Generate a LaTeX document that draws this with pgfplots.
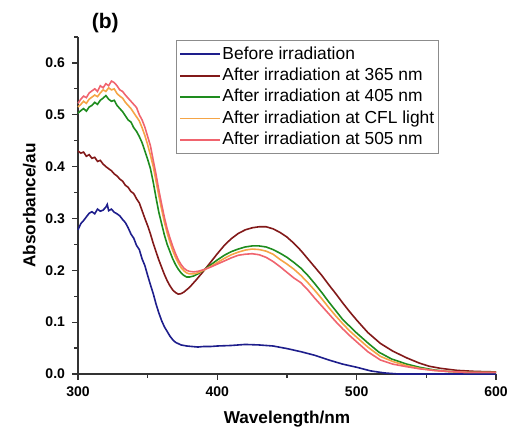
\documentclass[border=0pt]{standalone}
\usepackage{fontspec}
\setmainfont{Liberation Sans}
\usepackage{pgfplots}
\pgfplotsset{compat=1.18}

\definecolor{cnavy}{RGB}{30,30,140}
\definecolor{cmaroon}{RGB}{130,25,25}
\definecolor{cgreen}{RGB}{30,140,30}
\definecolor{corange}{RGB}{245,165,70}
\definecolor{cpink}{RGB}{240,100,110}

\begin{document}
\begin{tikzpicture}
\path[use as bounding box] (-39pt,-28.5pt) rectangle (217pt,187pt);
\begin{axis}[
  scale only axis,
  width=209pt, height=168.5pt,
  xmin=300, xmax=600, ymin=0, ymax=0.65,
  axis x line=bottom, axis y line=left,
  axis line style={-, line width=0.7pt, black!80},
  xtick={300,400,500,600}, minor xtick={350,450,550},
  ytick={0,0.1,0.2,0.3,0.4,0.5,0.6}, minor ytick={0.05,0.15,0.25,0.35,0.45,0.55,0.65},
  tick align=outside,
  major tick length=3pt, minor tick length=2pt,
  tick style={line width=0.6pt, black!80},
  /pgf/number format/assume math mode=true,
  ticklabel style={font=\fontsize{7}{8}\selectfont\bfseries},
  yticklabel style={/pgf/number format/.cd, fixed, fixed zerofill, precision=1},
  xticklabel style={/pgf/number format/.cd, fixed, precision=0, 1000 sep={}},
  xlabel={Wavelength/nm},
  ylabel={Absorbance/au},
  label style={font=\fontsize{8.6}{10}\selectfont\bfseries},
  xlabel style={yshift=0pt},
  ylabel style={yshift=-2pt},
  legend cell align=left,
  legend image code/.code={\draw[#1, line width=0.9pt] (0pt,0pt) -- (20pt,0pt);},
  legend style={
    at={(rel axis cs:0.2344,0.99)}, anchor=north west,
    draw=black!45, line width=0.5pt,
    font=\fontsize{8.7}{10}\selectfont,
    inner xsep=1.5pt, inner ysep=2pt,
    row sep=1.2pt,
    nodes={inner sep=0.6pt, text height=6.5pt, text depth=1.8pt},
  },
  every axis plot/.append style={line width=0.8pt},
  clip=false,
]
% Before irradiation
\addplot[cnavy] coordinates {
(300,0.278) (302,0.290) (304,0.296) (306,0.303) (308,0.310) (310,0.313)
(312,0.309) (314,0.318) (316,0.314) (318,0.316) (320,0.322) (321,0.327)
(322,0.315) (324,0.318) (326,0.312) (328,0.309) (330,0.305) (332,0.298)
(334,0.292) (336,0.282) (338,0.270) (340,0.262) (342,0.248) (344,0.240)
(346,0.222) (348,0.209) (350,0.190) (352,0.172) (354,0.155) (356,0.135)
(358,0.118) (360,0.103) (362,0.091) (364,0.082) (366,0.073) (368,0.066)
(370,0.061) (374,0.056) (378,0.054) (382,0.053) (386,0.052) (390,0.053)
(395,0.053) (400,0.054) (410,0.055) (420,0.057) (430,0.056) (440,0.054)
(450,0.049) (460,0.043) (470,0.036) (480,0.027) (490,0.019) (500,0.013)
(510,0.006) (520,0.002) (530,0.000) (600,0.000)
};
\addlegendentry{Before irradiation}
% 365 nm
\addplot[cmaroon] coordinates {
(300,0.430) (302,0.426) (304,0.428) (306,0.420) (308,0.423) (310,0.416)
(312,0.418) (314,0.410) (316,0.412) (318,0.405) (320,0.400) (322,0.396)
(324,0.392) (326,0.386) (328,0.382) (330,0.376) (332,0.372) (334,0.364)
(336,0.360) (338,0.352) (340,0.348) (342,0.338) (344,0.330) (346,0.315)
(348,0.300) (350,0.286) (352,0.270) (354,0.252) (356,0.236) (358,0.220)
(360,0.206) (362,0.192) (364,0.180) (366,0.170) (368,0.162) (370,0.157)
(372,0.154) (374,0.155) (376,0.158) (380,0.167) (385,0.182) (390,0.198)
(395,0.215) (400,0.232) (405,0.248) (410,0.261) (415,0.271) (420,0.278)
(425,0.282) (430,0.284) (435,0.284) (440,0.280) (445,0.273) (450,0.264)
(455,0.252) (460,0.238) (465,0.222) (470,0.206) (475,0.190) (480,0.172)
(485,0.155) (490,0.137) (495,0.120) (500,0.104) (508,0.080) (517,0.059)
(526,0.044) (536,0.031) (545,0.021) (552,0.015) (560,0.011) (572,0.007)
(585,0.005) (600,0.004)
};
\addlegendentry{After irradiation at 365 nm}
% 405 nm
\addplot[cgreen] coordinates {
(300,0.503) (302,0.508) (304,0.512) (306,0.507) (308,0.515) (310,0.518)
(312,0.524) (314,0.520) (316,0.528) (318,0.532) (320,0.537) (322,0.530)
(324,0.526) (326,0.528) (328,0.518) (330,0.512) (332,0.506) (334,0.498)
(336,0.490) (338,0.486) (340,0.475) (342,0.468) (344,0.458) (346,0.446)
(348,0.430) (350,0.414) (352,0.396) (354,0.370) (356,0.340) (358,0.312)
(360,0.290) (362,0.268) (364,0.250) (366,0.236) (368,0.222) (370,0.211)
(372,0.202) (374,0.195) (376,0.190) (378,0.187) (380,0.187) (383,0.189)
(386,0.193) (390,0.200) (395,0.210) (400,0.220) (405,0.229) (410,0.236)
(415,0.241) (420,0.245) (425,0.247) (430,0.247) (435,0.245) (440,0.240)
(445,0.233) (450,0.225) (455,0.215) (460,0.204) (465,0.190) (470,0.174)
(475,0.157) (480,0.139) (485,0.122) (490,0.105) (495,0.092) (500,0.079)
(508,0.060) (516,0.042) (525,0.029) (536,0.019) (545,0.013) (555,0.008)
(565,0.005) (580,0.003) (600,0.003)
};
\addlegendentry{After irradiation at 405 nm}
% CFL light
\addplot[corange] coordinates {
(300,0.515) (302,0.520) (304,0.526) (306,0.522) (308,0.530) (310,0.534)
(312,0.538) (314,0.535) (316,0.542) (318,0.548) (320,0.545) (322,0.552)
(324,0.548) (326,0.550) (328,0.541) (330,0.536) (332,0.532) (334,0.524)
(336,0.518) (338,0.512) (340,0.504) (342,0.496) (344,0.488) (346,0.475)
(348,0.460) (350,0.442) (352,0.422) (354,0.400) (356,0.372) (358,0.344)
(360,0.318) (362,0.293) (364,0.272) (366,0.254) (368,0.238) (370,0.225)
(372,0.214) (374,0.205) (376,0.199) (378,0.195) (380,0.193) (383,0.193)
(386,0.195) (390,0.200) (395,0.207) (400,0.215) (405,0.223) (410,0.230)
(415,0.235) (420,0.239) (425,0.241) (430,0.240) (435,0.237) (440,0.231)
(445,0.221) (450,0.212) (455,0.202) (460,0.190) (465,0.176) (470,0.161)
(475,0.145) (480,0.128) (485,0.112) (490,0.097) (495,0.083) (500,0.071)
(508,0.052) (517,0.034) (526,0.024) (536,0.016) (545,0.011) (555,0.007)
(565,0.005) (580,0.003) (600,0.003)
};
\addlegendentry{After irradiation at CFL light}
% 505 nm
\addplot[cpink] coordinates {
(300,0.522) (302,0.530) (304,0.536) (306,0.533) (308,0.542) (310,0.546)
(312,0.550) (314,0.545) (316,0.556) (318,0.552) (320,0.560) (322,0.556)
(324,0.565) (326,0.562) (328,0.556) (330,0.548) (332,0.545) (334,0.538)
(336,0.532) (338,0.526) (340,0.520) (342,0.514) (344,0.500) (346,0.490)
(348,0.476) (350,0.458) (352,0.440) (354,0.412) (356,0.385) (358,0.355)
(360,0.328) (362,0.302) (364,0.280) (366,0.262) (368,0.246) (370,0.232)
(372,0.220) (374,0.211) (376,0.204) (378,0.200) (380,0.198) (383,0.197)
(386,0.198) (390,0.201) (395,0.206) (400,0.212) (405,0.218) (410,0.224)
(415,0.229) (420,0.231) (425,0.232) (430,0.230) (435,0.225) (440,0.217)
(445,0.207) (450,0.196) (455,0.185) (460,0.176) (465,0.162) (470,0.146)
(475,0.131) (480,0.116) (485,0.101) (490,0.087) (495,0.074) (500,0.062)
(508,0.043) (517,0.027) (526,0.019) (536,0.014) (545,0.010) (555,0.007)
(565,0.005) (580,0.003) (600,0.003)
};
\addlegendentry{After irradiation at 505 nm}
\node[font=\fontsize{10.5}{12}\selectfont\bfseries] at (rel axis cs:0.065,1.04) {(b)};
\end{axis}
\end{tikzpicture}
\end{document}
